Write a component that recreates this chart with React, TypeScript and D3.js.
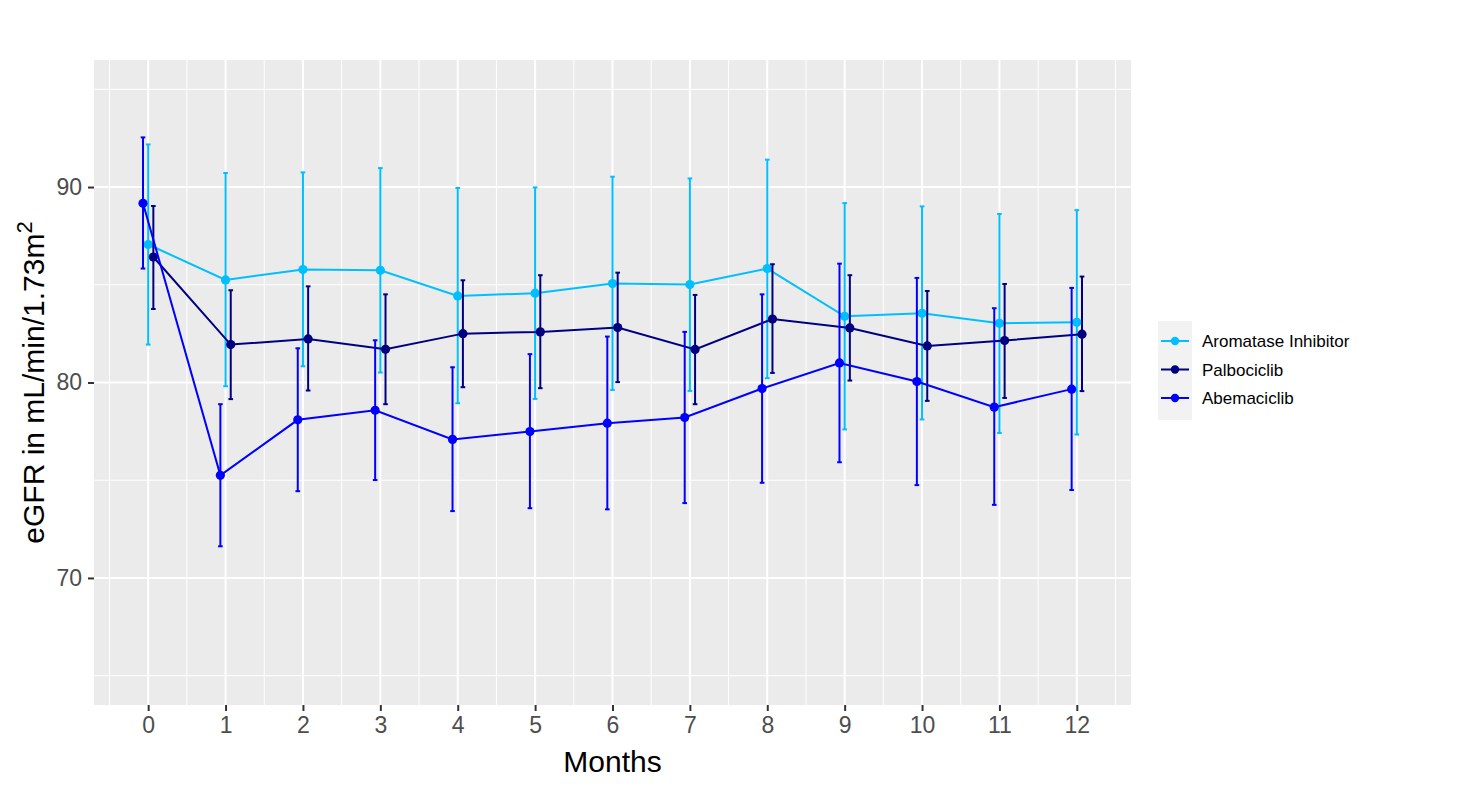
import React, { useEffect, useRef } from 'react';
import * as d3 from 'd3';

// months on the x axis
const months = [0, 1, 2, 3, 4, 5, 6, 7, 8, 9, 10, 11, 12];

const seriesNames = ['Aromatase Inhibitor', 'Palbociclib', 'Abemaciclib'];

// eGFR means and error bar limits per series
const aiMean = [87.06, 85.25, 85.78, 85.74, 84.43, 84.57, 85.06, 85.01, 85.83, 83.39, 83.54, 83.03, 83.08];
const aiLower = [81.94, 79.81, 80.83, 80.51, 78.94, 79.16, 79.62, 79.57, 80.22, 77.6, 78.11, 77.42, 77.34];
const aiUpper = [92.18, 90.72, 90.75, 90.97, 89.95, 89.98, 90.53, 90.44, 91.4, 89.18, 89.01, 88.62, 88.82];

const palboMean = [86.42, 81.94, 82.23, 81.7, 82.5, 82.59, 82.81, 81.69, 83.25, 82.79, 81.87, 82.15, 82.47];
const palboLower = [83.76, 79.15, 79.59, 78.89, 79.76, 79.71, 80.02, 78.89, 80.49, 80.1, 79.06, 79.21, 79.56];
const palboUpper = [89.03, 84.72, 84.92, 84.51, 85.23, 85.49, 85.62, 84.48, 86.05, 85.49, 84.68, 85.04, 85.42];

const abemaMean = [89.17, 75.25, 78.09, 78.58, 77.09, 77.49, 77.92, 78.21, 79.69, 81.0, 80.05, 78.74, 79.66];
const abemaLower = [85.83, 71.62, 74.44, 75.01, 73.42, 73.57, 73.51, 73.83, 74.87, 75.92, 74.75, 73.74, 74.5];
const abemaUpper = [92.54, 78.89, 81.75, 82.16, 80.78, 81.45, 82.35, 82.59, 84.51, 86.08, 85.35, 83.8, 84.84];

const yTicks = [70, 80, 90];
const yMinor = [65, 75, 85, 95];

const colors = ['#00BFFF', '#000080', '#0000FF'];
const dodge = [0, 0.067, -0.067];

const App: React.FC = () => {
  const svgRef = useRef<SVGSVGElement>(null);
  const width = 1464;
  const height = 789;

  useEffect(() => {
    if (!svgRef.current) return;
    const svg = d3.select(svgRef.current);
    svg.selectAll('*').remove();

    const panel = { left: 94, right: 1131, top: 60, bottom: 705 };
    const font = "'Liberation Sans', Arial, Helvetica, sans-serif";

    const x = d3.scaleLinear().domain([-0.7, 12.7]).range([panel.left, panel.right]);
    const y = d3.scaleLinear().domain([63.5, 96.5]).range([panel.bottom, panel.top]);

    svg.append('rect').attr('width', width).attr('height', height).attr('fill', '#ffffff');

    // panel background
    svg.append('rect')
      .attr('x', panel.left)
      .attr('y', panel.top)
      .attr('width', panel.right - panel.left)
      .attr('height', panel.bottom - panel.top)
      .attr('fill', '#EBEBEB');

    const xMinor = d3.range(-0.5, 12.6, 1);

    // minor grid
    svg.selectAll('.xminor').data(xMinor).enter().append('line')
      .attr('x1', d => x(d)).attr('x2', d => x(d))
      .attr('y1', panel.top).attr('y2', panel.bottom)
      .attr('stroke', '#fff').attr('stroke-width', 1);
    svg.selectAll('.yminor').data(yMinor).enter().append('line')
      .attr('y1', d => y(d)).attr('y2', d => y(d))
      .attr('x1', panel.left).attr('x2', panel.right)
      .attr('stroke', '#fff').attr('stroke-width', 1);

    // major grid
    svg.selectAll('.xmajor').data(months).enter().append('line')
      .attr('x1', d => x(d)).attr('x2', d => x(d))
      .attr('y1', panel.top).attr('y2', panel.bottom)
      .attr('stroke', '#fff').attr('stroke-width', 2);
    svg.selectAll('.ymajor').data(yTicks).enter().append('line')
      .attr('y1', d => y(d)).attr('y2', d => y(d))
      .attr('x1', panel.left).attr('x2', panel.right)
      .attr('stroke', '#fff').attr('stroke-width', 2);

    // axes
    const xAxis = svg.append('g')
      .attr('transform', `translate(0, ${panel.bottom})`)
      .call(d3.axisBottom(x).tickValues(months).tickSize(6).tickPadding(6).tickFormat(d3.format('d')));
    const yAxis = svg.append('g')
      .attr('transform', `translate(${panel.left}, 0)`)
      .call(d3.axisLeft(y).tickValues(yTicks).tickSize(6).tickPadding(6).tickFormat(d3.format('d')));

    [xAxis, yAxis].forEach(ax => {
      ax.select('.domain').remove();
      ax.selectAll('line').attr('stroke', '#333333').attr('stroke-width', 2);
      ax.selectAll('text')
        .attr('fill', '#4D4D4D')
        .style('font-family', font)
        .style('font-size', '23px');
    });

    // axis titles
    svg.append('text')
      .attr('x', (panel.left + panel.right) / 2)
      .attr('y', 772)
      .attr('text-anchor', 'middle')
      .style('font-family', font)
      .style('font-size', '30px')
      .attr('fill', '#000')
      .text('Months');

    const yTitle = svg.append('text')
      .attr('transform', `translate(44, ${(panel.top + panel.bottom) / 2}) rotate(-90)`)
      .attr('text-anchor', 'middle')
      .style('font-family', font)
      .style('font-size', '30px')
      .attr('fill', '#000');
    yTitle.append('tspan').text('eGFR in mL/min/1.73m');
    yTitle.append('tspan').attr('dy', -12).style('font-size', '22px').text('2');

    const series = [
      { mean: aiMean, lower: aiLower, upper: aiUpper },
      { mean: palboMean, lower: palboLower, upper: palboUpper },
      { mean: abemaMean, lower: abemaLower, upper: abemaUpper },
    ];

    const capHalf = 0.03;
    const sw = 2;

    series.forEach((s, si) => {
      const pts = months.map((m, i) => ({
        m: m + dodge[si],
        mean: s.mean[i],
        lo: s.lower[i],
        hi: s.upper[i],
      }));
      const g = svg.append('g');

      // error bars
      const eb = g.selectAll('.eb').data(pts).enter().append('g');
      eb.append('line')
        .attr('x1', d => x(d.m)).attr('x2', d => x(d.m))
        .attr('y1', d => y(d.lo)).attr('y2', d => y(d.hi))
        .attr('stroke', colors[si]).attr('stroke-width', sw);
      eb.append('line')
        .attr('x1', d => x(d.m - capHalf)).attr('x2', d => x(d.m + capHalf))
        .attr('y1', d => y(d.lo)).attr('y2', d => y(d.lo))
        .attr('stroke', colors[si]).attr('stroke-width', sw);
      eb.append('line')
        .attr('x1', d => x(d.m - capHalf)).attr('x2', d => x(d.m + capHalf))
        .attr('y1', d => y(d.hi)).attr('y2', d => y(d.hi))
        .attr('stroke', colors[si]).attr('stroke-width', sw);

      const line = d3.line<{ m: number; mean: number }>()
        .x(d => x(d.m))
        .y(d => y(d.mean));
      g.append('path')
        .datum(pts)
        .attr('d', line)
        .attr('fill', 'none')
        .attr('stroke', colors[si])
        .attr('stroke-width', sw);

      g.selectAll('.pt').data(pts).enter().append('circle')
        .attr('cx', d => x(d.m))
        .attr('cy', d => y(d.mean))
        .attr('r', 4.6)
        .attr('fill', colors[si]);
    });

    // legend
    const legend = svg.append('g');
    const keyTop = 321;
    const keyH = 28.5;
    legend.append('rect')
      .attr('x', 1158).attr('y', keyTop)
      .attr('width', 34).attr('height', 99)
      .attr('fill', '#F2F2F2');
    seriesNames.forEach((name, i) => {
      const cy = 341 + i * keyH;
      legend.append('line')
        .attr('x1', 1161).attr('x2', 1189)
        .attr('y1', cy).attr('y2', cy)
        .attr('stroke', colors[i]).attr('stroke-width', sw);
      legend.append('circle')
        .attr('cx', 1175).attr('cy', cy).attr('r', 4.2)
        .attr('fill', colors[i]);
      legend.append('text')
        .attr('x', 1202).attr('y', cy + 6)
        .style('font-family', font)
        .style('font-size', '17px')
        .attr('fill', '#000')
        .text(name);
    });
  }, []);

  return (
    <svg
      ref={svgRef}
      width={width}
      height={height}
      style={{ position: 'absolute', left: 0, top: 0 }}
    />
  );
};

export default App;
